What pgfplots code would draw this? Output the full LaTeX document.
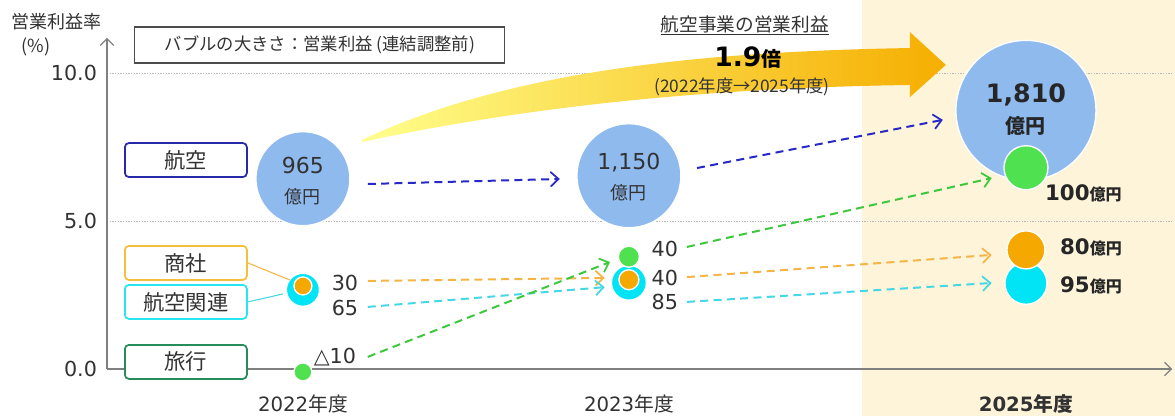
\documentclass[border=0pt]{standalone}
\usepackage{fontspec}
\setmainfont{DejaVu Sans}
\newfontfamily\jp{Noto Sans CJK JP}
\usepackage{pgfplots}
\pgfplotsset{compat=1.18}
\usepackage{pgfplotstable}
\usetikzlibrary{arrows.meta}

\definecolor{cream}{RGB}{253,244,218}
\definecolor{cAir}{RGB}{143,186,238}
\definecolor{cTravel}{RGB}{80,225,80}
\definecolor{cTrade}{RGB}{245,168,0}
\definecolor{cRel}{RGB}{0,228,245}
\definecolor{lAir}{RGB}{40,40,200}
\definecolor{lTravel}{RGB}{60,200,60}
\definecolor{lTrade}{RGB}{245,180,70}
\definecolor{lRel}{RGB}{70,215,230}
\definecolor{bAir}{RGB}{40,40,170}
\definecolor{bTrade}{RGB}{245,190,60}
\definecolor{bRel}{RGB}{40,230,240}
\definecolor{bTravel}{RGB}{40,140,90}
\definecolor{axgray}{RGB}{128,128,128}
\definecolor{txt}{RGB}{50,50,50}

% x: 0 = 2022, 1 = 2023, 2.218 = 2025 ; r = bubble radius (pt)
\pgfplotstableread{
x y r
0 6.44 35.25
1 6.54 39
2.218 8.75 52.5
}\airtab
\pgfplotstableread{
x y r
0 2.68 12.4
1 2.92 13.1
2.218 2.90 15.75
}\reltab
\pgfplotstableread{
x y r
0 2.81 6.75
1 3.02 7.5
2.218 4.03 14.25
}\tradetab
\pgfplotstableread{
x y r
0 -0.10 6.75
1 3.80 7.9
2.218 6.81 16.5
}\traveltab

\newcommand{\fs}[1]{\fontsize{#1}{#1}\selectfont}

\pgfplotsset{
  bubble/.style={scatter, only marks, mark=*, point meta=\thisrow{r},
    scatter/use mapped color={draw=white, fill=#1, line width=1pt},
    visualization depends on={\thisrow{r} \as \rad},
    scatter/@pre marker code/.append style={/tikz/mark size=\rad}},
  flow/.style={#1, line width=1.5pt, dash pattern=on 6pt off 4pt,
    -{Straight Barb[length=6pt,width=11pt,line width=1.3pt]}},
}
\tikzset{cat/.style={draw=#1, line width=1.3pt, rounded corners=3pt, fill=white, minimum width=91.5pt, minimum height=25.5pt, inner sep=0pt, text=txt, font=\jp\fs{16}}}

\begin{document}
\begin{tikzpicture}
\begin{axis}[
  set layers,
  scale only axis,
  width=798.75pt, height=248.25pt,
  xmin=-0.601, xmax=2.666, ymin=0, ymax=11.2,
  axis lines=left,
  axis line style={draw=axgray, line width=0.9pt},
  x axis line style={-{Straight Barb[length=5pt,width=10pt]}},
  y axis line style={-{Straight Barb[length=5pt,width=10pt]}},
  xtick={0,1,2.218},
  xticklabels={2022{\jp 年度}, 2023{\jp 年度}, {\bfseries 2025{\jp\bfseries 年度}}},
  ytick={0,5,10},
  major tick length=0pt,
  ymajorgrids,
  grid style={draw=gray!55, line width=0.8pt, dash pattern=on 1pt off 1pt},
  yticklabel style={/pgf/number format/fixed, /pgf/number format/fixed zerofill, /pgf/number format/precision=1, /pgf/number format/assume math mode=true},
  yticklabel style={xshift=-4pt, font=\fs{15.5}, text=txt},
  xticklabel style={yshift=-16pt, font=\fs{14.8}, text=txt},
  clip=false,
]
% shaded target year region
\begin{pgfonlayer}{axis background}
\fill[cream] (axis cs:1.715,-1.7) rectangle (axis cs:2.75,12.7);
\end{pgfonlayer}

% big growth arrow
\shade[left color=yellow!45!white, middle color={rgb,255:red,255;green,236;blue,0}, right color={rgb,255:red,246;green,174;blue,0}]
  (axis cs:0.181,7.75) .. controls (axis cs:0.604,9.95) and (axis cs:1.156,10.73) .. (axis cs:1.862,10.86)
  -- (axis cs:1.862,11.40) -- (axis cs:1.972,10.29) -- (axis cs:1.862,9.20) -- (axis cs:1.862,9.61)
  .. controls (axis cs:1.218,9.51) and (axis cs:0.666,8.83) .. (axis cs:0.181,7.68) -- cycle;

% flows
\addplot[flow=lAir] coordinates {(0.199,6.26) (0.788,6.43)};
\addplot[flow=lAir] coordinates {(1.209,6.80) (1.963,8.43)};
\addplot[flow=lTrade] coordinates {(0.199,2.98) (0.926,3.08)};
\addplot[flow=lTrade] coordinates {(1.178,3.11) (2.113,3.86)};
\addplot[flow=lRel] coordinates {(0.199,2.10) (0.926,2.77)};
\addplot[flow=lRel] coordinates {(1.178,2.27) (2.113,2.91)};
\addplot[flow=lTravel] coordinates {(0.199,0.41) (0.942,3.62)};
\addplot[flow=lTravel] coordinates {(1.178,4.13) (2.113,6.46)};

% bubbles
\addplot[bubble=cAir] table[x=x,y=y] {\airtab};
\addplot[bubble=cRel] table[x=x,y=y] {\reltab};
\addplot[bubble=cTrade] table[x=x,y=y] {\tradetab};
\addplot[bubble=cTravel] table[x=x,y=y] {\traveltab};

\begin{pgfonlayer}{axis foreground}
\node[text=txt, font=\jp\fs{14}, inner sep=1pt] at (axis cs:1.356,11.62) {\underline{航空事業の営業利益}};
\node[text=black, inner sep=0pt] at (axis cs:1.365,10.55) {\fs{20}\bfseries 1.9{\jp\fs{15}\bfseries 倍}};
\node[text=txt, font=\jp\fs{13}, inner sep=0pt] at (axis cs:1.347,9.54) {(2022年度→2025年度)};

% bubble texts
\node[text=txt, font=\fs{16.5}] at (axis cs:0,6.90) {965};
\node[text=txt, font=\jp\fs{13.5}] at (axis cs:0,5.82) {億円};
\node[text=txt, font=\fs{16.5}] at (axis cs:1,7.00) {1,150};
\node[text=txt, font=\jp\fs{13.5}] at (axis cs:1,5.96) {億円};
\node[text=black!85, font=\fs{19}\bfseries] at (axis cs:2.218,9.27) {1,810};
\node[text=black!85, font=\jp\fs{15}\bfseries] at (axis cs:2.218,8.22) {億円};

% value labels
\node[text=txt, font=\fs{15.5}] at (axis cs:0.129,2.91) {30};
\node[text=txt, font=\fs{15.5}] at (axis cs:0.129,2.06) {65};
\node[text=txt, font=\fs{15.5}] at (axis cs:0.098,0.41) {△10};
\node[text=txt, font=\fs{15.5}] at (axis cs:1.110,4.06) {40};
\node[text=txt, font=\fs{15.5}] at (axis cs:1.110,3.08) {40};
\node[text=txt, font=\fs{15.5}] at (axis cs:1.110,2.27) {85};
\node[anchor=west, text=black!85, inner sep=0pt] at (axis cs:2.276,5.96) {\fs{16}\bfseries 100{\jp\fs{12}\bfseries 億円}};
\node[anchor=west, text=black!85, inner sep=0pt] at (axis cs:2.322,4.13) {\fs{16}\bfseries 80{\jp\fs{12}\bfseries 億円}};
\node[anchor=west, text=black!85, inner sep=0pt] at (axis cs:2.322,2.84) {\fs{16}\bfseries 95{\jp\fs{12}\bfseries 億円}};

% axis title
\node[text=txt, font=\jp\fs{13.5}] at (axis cs:-0.755,11.74) {営業利益率};
\node[text=txt, font=\jp\fs{13.5}] at (axis cs:-0.819,10.90) {(\%)};

% legend note box
\node[draw=gray!60!black, line width=0.9pt, fill=white, minimum width=277.5pt, minimum height=27pt, inner sep=0pt, text=txt, font=\jp\fs{13}]
  at (axis cs:0.052,10.96) {バブルの大きさ：営業利益 (連結調整前)};

% connectors
\draw[lTrade, line width=0.8pt] (axis cs:-0.169,3.59) -- (axis cs:-0.040,3.01);
\draw[lRel, line width=0.8pt] (axis cs:-0.169,2.27) -- (axis cs:-0.061,2.54);

% category boxes
\node[cat=bAir] at (axis cs:-0.359,7.07) {航空};
\node[cat=bTrade] at (axis cs:-0.359,3.59) {商社};
\node[cat=bRel] at (axis cs:-0.359,2.27) {航空関連};
\node[cat=bTravel] at (axis cs:-0.359,0.24) {旅行};
\end{pgfonlayer}
\end{axis}
\pgfresetboundingbox
\path[use as bounding box] ([shift={(-80.25pt,-35.25pt)}]current axis.south west) rectangle ([shift={(801pt,276.75pt)}]current axis.south west);
\end{tikzpicture}
\end{document}
